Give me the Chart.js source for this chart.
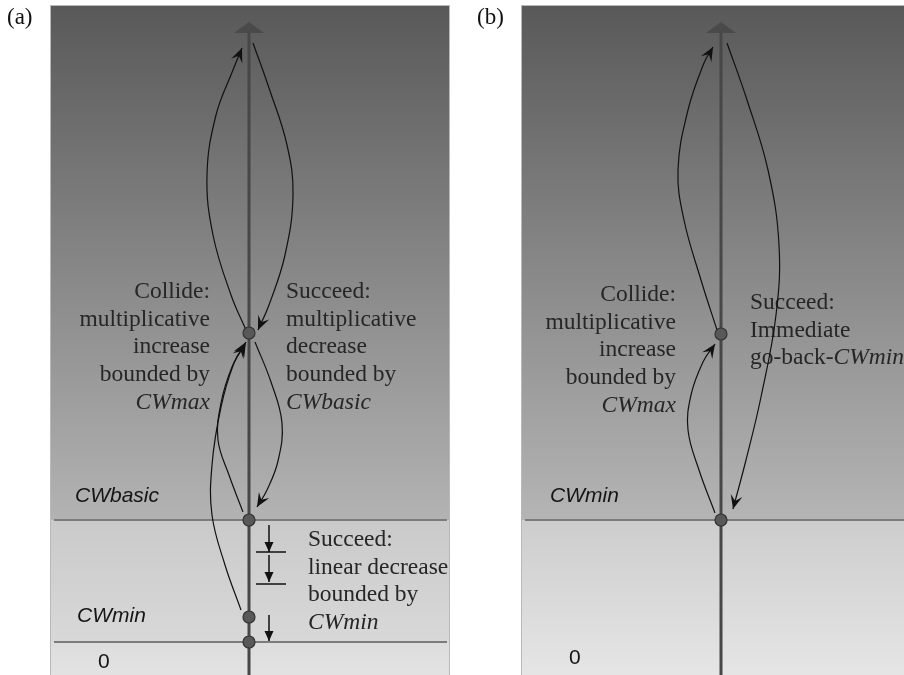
<!DOCTYPE html>
<html>
<head>
<meta charset="utf-8">
<script src="https://cdn.jsdelivr.net/npm/chart.js@4"></script>
<style>
  body { margin: 0; background: #fff; width: 904px; height: 675px; overflow: hidden; position: relative; }
  canvas { position: absolute; top: 0; }
  #panelA { left: 0; }
  #panelB { left: 452px; }
</style>
</head>
<body>
<canvas id="panelA" width="452" height="675"></canvas>
<canvas id="panelB" width="452" height="675"></canvas>
<script>
// y = contention window size (0 at the bottom), x = offset from the CW axis
const axisTop = 653;

// panel (a)
const levelNamesA = ["CWbasic", "CWmin"];
const levelValuesA = [155, 33];
const dotValuesA = [342, 155, 58, 33];
const collideUpA = [[-3, 345], [-18, 380], [-36, 440], [-42, 500], [-33, 560], [-16, 605], [-7, 627]];
const succeedDownA = [[4, 632], [20, 587], [38, 530], [44, 480], [36, 420], [20, 370], [9, 345]];
const basicUpA = [[-6, 163], [-20, 200], [-31, 235], [-28, 272], [-17, 308], [-4, 331]];
const minUpA = [[-8, 65], [-24, 110], [-37, 160], [-37, 210], [-28, 268], [-15, 312], [-3, 333]];
const decreaseToBasicA = [[6, 333], [22, 293], [33, 252], [29, 214], [18, 185], [8, 168]];
const linearStepsA = [[[20, 150], [20, 123]], [[20, 120], [20, 93]], [[20, 60], [20, 34]]];
const stepTickValuesA = [123, 91];

// panel (b)
const levelNamesB = ["CWmin"];
const levelValuesB = [155];
const dotValuesB = [341, 155];
const collideUpB = [[-4, 345], [-20, 395], [-37, 455], [-43, 505], [-33, 565], [-17, 612], [-8, 628]];
const goBackB = [[6, 632], [26, 575], [47, 505], [58, 430], [55, 360], [40, 278], [25, 215], [12, 166]];
const minUpB = [[-6, 162], [-22, 205], [-33, 245], [-30, 280], [-18, 313], [-6, 331]];

// annotation texts ( _x_ = italic )
const collideLines = ["Collide:", "multiplicative", "increase", "bounded by", "_CWmax_"];
const succeedLinesA = ["Succeed:", "multiplicative", "decrease", "bounded by", "_CWbasic_"];
const linearLinesA = ["Succeed:", "linear decrease", "bounded by", "_CWmin_"];
const succeedLinesB = ["Succeed:", "Immediate", "go-back-_CWmin_"];

const SERIF = '"Liberation Serif", "DejaVu Serif", serif';
const SANS = '"Liberation Sans", Arial, sans-serif';
const INK = "#262626";

function pts(arr) {
  return arr.map(([x, y]) => ({ x, y }));
}

function arrowHead(ctx, tx, ty, ang, len, wid, notch) {
  ctx.save();
  ctx.translate(tx, ty);
  ctx.rotate(ang);
  ctx.beginPath();
  ctx.moveTo(0, 0);
  ctx.lineTo(-len, -wid / 2);
  ctx.lineTo(-len * notch, 0);
  ctx.lineTo(-len, wid / 2);
  ctx.closePath();
  ctx.fillStyle = "#111";
  ctx.fill();
  ctx.restore();
}

function drawRich(ctx, str, px, py, align, size) {
  const parts = str.split(/(_[^_]+_)/).filter(s => s.length);
  const fontOf = s => (s[0] === "_" ? "italic " : "") + size + "px " + SERIF;
  let total = 0;
  parts.forEach(s => { ctx.font = fontOf(s); total += ctx.measureText(s.replace(/_/g, "")).width; });
  let cx = align === "right" ? px - total : px;
  ctx.textAlign = "left";
  parts.forEach(s => {
    ctx.font = fontOf(s);
    const t = s.replace(/_/g, "");
    ctx.fillText(t, cx, py);
    cx += ctx.measureText(t).width;
  });
}

function makePanel(id, panel) {
  const plugin = {
    id: "diagram_" + id,
    beforeDatasetsDraw(chart) {
      const { ctx, scales: { x, y } } = chart;
      const left = x.getPixelForValue(panel.box[0]);
      const right = x.getPixelForValue(panel.box[1]);
      ctx.save();
      // box edge
      ctx.fillStyle = "#b9b9b9";
      ctx.fillRect(left - 1, y.getPixelForValue(669) - 1, right - left + 2, 700);
      panel.bands.forEach(b => {
        const top = y.getPixelForValue(b.from), bot = y.getPixelForValue(b.to);
        const g = ctx.createLinearGradient(0, top, 0, bot);
        g.addColorStop(0, b.c0);
        g.addColorStop(1, b.c1);
        ctx.fillStyle = g;
        ctx.fillRect(left, top, right - left, bot - top);
      });
      // panel tag
      ctx.fillStyle = "#111";
      ctx.textBaseline = "middle";
      ctx.font = "23px " + SERIF;
      ctx.textAlign = "left";
      ctx.fillText(panel.tag[0], x.getPixelForValue(panel.tag[1]), y.getPixelForValue(panel.tag[2]));
      // level names
      ctx.fillStyle = "#151515";
      panel.levelLabels.forEach(l => {
        ctx.font = (l.italic ? "italic " : "") + "21px " + SANS;
        ctx.fillText(l.text, x.getPixelForValue(l.x), y.getPixelForValue(l.y));
      });
      // annotation blocks
      ctx.fillStyle = INK;
      panel.blocks.forEach(b => {
        b.lines.forEach((line, i) => {
          drawRich(ctx, line, x.getPixelForValue(b.x), y.getPixelForValue(b.y - i * 27.6), b.align, 23.5);
        });
      });
      ctx.restore();
    },
    afterDatasetsDraw(chart) {
      const { ctx, scales: { x, y } } = chart;
      // arrow on top of the CW axis
      ctx.save();
      ctx.beginPath();
      ctx.moveTo(x.getPixelForValue(0), y.getPixelForValue(axisTop));
      ctx.lineTo(x.getPixelForValue(-15), y.getPixelForValue(axisTop - 11));
      ctx.lineTo(x.getPixelForValue(15), y.getPixelForValue(axisTop - 11));
      ctx.closePath();
      ctx.fillStyle = "#4a4a4a";
      ctx.fill();
      ctx.restore();
      chart.data.datasets.forEach((ds, i) => {
        if (!ds.arrow) return;
        const els = chart.getDatasetMeta(i).data;
        const last = els[els.length - 1];
        let fx = last.cp1x, fy = last.cp1y;
        if (fx === undefined || (Math.abs(fx - last.x) < 0.5 && Math.abs(fy - last.y) < 0.5)) {
          fx = els[els.length - 2].x; fy = els[els.length - 2].y;
        }
        const ang = Math.atan2(last.y - fy, last.x - fx);
        if (ds.arrow === "small") arrowHead(ctx, last.x, last.y, ang, 10, 9, 1);
        else arrowHead(ctx, last.x, last.y, ang, 14, 12, 0.6);
      });
    }
  };

  const datasets = [];
  datasets.push({
    data: panel.dots.map(v => ({ x: 0, y: v })),
    pointRadius: 6, pointBackgroundColor: "#585858", pointBorderColor: "#333", pointBorderWidth: 1.2
  });
  panel.curves.forEach(c => datasets.push({
    data: pts(c), showLine: true, tension: 0.4, borderColor: "#111", borderWidth: 1.2, pointRadius: 0, arrow: "big"
  }));
  panel.steps.forEach(s => datasets.push({
    data: pts(s), showLine: true, borderColor: "#111", borderWidth: 1.5, pointRadius: 0, arrow: "small"
  }));
  panel.ticks.forEach(v => datasets.push({
    data: [{ x: 7, y: v }, { x: 37, y: v }], showLine: true, borderColor: "#111", borderWidth: 1.5, pointRadius: 0
  }));
  datasets.push({
    data: [{ x: 0, y: -5 }, { x: 0, y: axisTop - 10 }], showLine: true, borderColor: "#474747", borderWidth: 3, pointRadius: 0
  });
  panel.levels.forEach(v => datasets.push({
    data: [{ x: panel.box[0] + 3, y: v }, { x: panel.box[1] - 2, y: v }], showLine: true, borderColor: "#7c7c7c", borderWidth: 2, pointRadius: 0
  }));

  return new Chart(document.getElementById(id), {
    type: "scatter",
    data: { datasets },
    options: {
      responsive: false,
      animation: false,
      events: [],
      layout: { padding: 0, autoPadding: false },
      plugins: { legend: { display: false }, tooltip: { enabled: false } },
      scales: {
        x: { type: "linear", display: false, min: panel.xRange[0], max: panel.xRange[1] },
        y: { type: "linear", display: false, min: 0, max: 675 }
      }
    },
    plugins: [plugin]
  });
}

makePanel("panelA", {
  xRange: [-249, 203],
  box: [-198, 200],
  tag: ["(a)", -242, 657],
  bands: [
    { from: 669, to: 155, c0: "#595959", c1: "#b3b3b3" },
    { from: 155, to: 33, c0: "#cacaca", c1: "#d8d8d8" },
    { from: 33, to: -5, c0: "#dddddd", c1: "#e3e3e3" }
  ],
  levels: levelValuesA,
  levelLabels: [
    { text: levelNamesA[0], x: -174, y: levelValuesA[0] + 24, italic: true },
    { text: levelNamesA[1], x: -172, y: levelValuesA[1] + 26, italic: true },
    { text: "0", x: -151, y: 13, italic: false }
  ],
  dots: dotValuesA,
  curves: [collideUpA, succeedDownA, basicUpA, minUpA, decreaseToBasicA],
  steps: linearStepsA,
  ticks: stepTickValuesA,
  blocks: [
    { lines: collideLines, x: -39, y: 383, align: "right" },
    { lines: succeedLinesA, x: 37, y: 383, align: "left" },
    { lines: linearLinesA, x: 59, y: 135, align: "left" }
  ]
});

makePanel("panelB", {
  xRange: [-269, 183],
  box: [-199, 190],
  tag: ["(b)", -244, 657],
  bands: [
    { from: 669, to: 155, c0: "#595959", c1: "#b5b5b5" },
    { from: 155, to: -5, c0: "#cdcdcd", c1: "#e6e6e6" }
  ],
  levels: levelValuesB,
  levelLabels: [
    { text: levelNamesB[0], x: -171, y: levelValuesB[0] + 24, italic: true },
    { text: "0", x: -152, y: 17, italic: false }
  ],
  dots: dotValuesB,
  curves: [collideUpB, goBackB, minUpB],
  steps: [],
  ticks: [],
  blocks: [
    { lines: collideLines, x: -45, y: 380, align: "right" },
    { lines: succeedLinesB, x: 29, y: 372, align: "left" }
  ]
});
</script>
</body>
</html>
